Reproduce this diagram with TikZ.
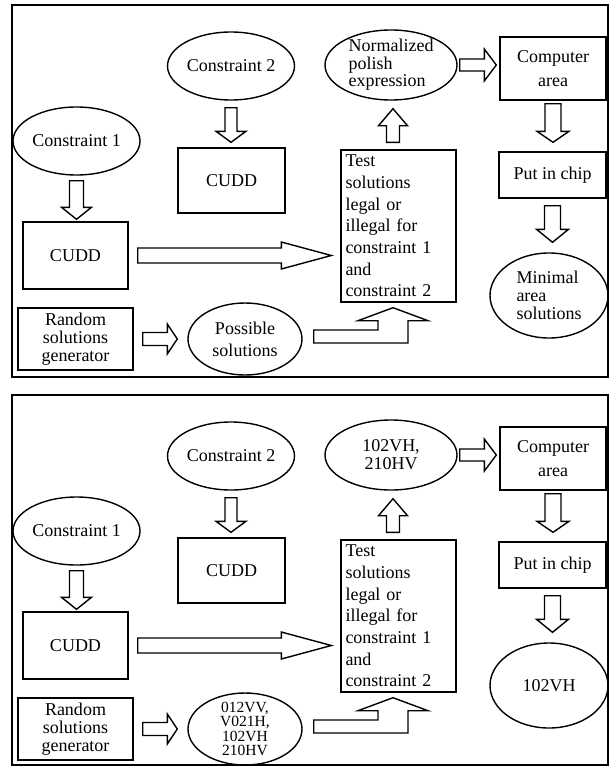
\documentclass[tikz,border=0pt]{standalone}
\usepackage{fontspec}
\setmainfont{Liberation Serif}
\usetikzlibrary{shapes.geometric,calc}
\newcommand\fz[2]{\fontsize{#1bp}{#2bp}\selectfont}
\tikzset{
  box/.style={draw, line width=1.4bp, rectangle, inner sep=0pt, font=\fz{18}{21.5}},
  oval/.style={draw, line width=1.4bp, ellipse, inner sep=0pt},
  fat/.style={draw, line width=1.4bp, line join=miter, fill=white},
  frame/.style={draw, line width=2bp},
}
% vertical / horizontal block arrows: start, end, shaft half width, head half width, head length
\newcommand\fatdown[5]{\path[fat] let \p1=#1, \p2=#2 in
  (\x1-#3bp,\y1) -- (\x1-#3bp,\y2+#5bp) -- (\x1-#4bp,\y2+#5bp) -- (\x1,\y2)
  -- (\x1+#4bp,\y2+#5bp) -- (\x1+#3bp,\y2+#5bp) -- (\x1+#3bp,\y1) -- cycle;}
\newcommand\fatup[5]{\path[fat] let \p1=#1, \p2=#2 in
  (\x1-#3bp,\y1) -- (\x1-#3bp,\y2-#5bp) -- (\x1-#4bp,\y2-#5bp) -- (\x1,\y2)
  -- (\x1+#4bp,\y2-#5bp) -- (\x1+#3bp,\y2-#5bp) -- (\x1+#3bp,\y1) -- cycle;}
\newcommand\fatright[5]{\path[fat] let \p1=#1, \p2=#2 in
  (\x1,\y1+#3bp) -- (\x2-#5bp,\y1+#3bp) -- (\x2-#5bp,\y1+#4bp) -- (\x2,\y1)
  -- (\x2-#5bp,\y1-#4bp) -- (\x2-#5bp,\y1-#3bp) -- (\x1,\y1-#3bp) -- cycle;}
% one panel: prefix, y offset, label of top ellipse, label of possible-solutions ellipse, label of final ellipse
\newcommand\flowpanel[5]{%
\begin{scope}[yshift=-#2bp]
  \node[oval, minimum width=127bp, minimum height=68bp,
        label={[font=\fz{18}{21}]center:Constraint 2}] (#1c2) at (231,66) {};
  \node[box, minimum width=107bp, minimum height=65bp] (#1cuddA) at (231.5,180.5) {CUDD};
  \node[oval, minimum width=127bp, minimum height=68bp,
        label={[font=\fz{18}{21}]center:Constraint 1}] (#1c1) at (76.5,141) {};
  \node[box, minimum width=105bp, minimum height=67bp] (#1cuddB) at (75.5,255.5) {CUDD};
  \node[box, minimum width=115bp, minimum height=62bp, align=center, font=\fz{18}{18}]
        (#1rnd) at (75.5,339) {Random\\solutions\\generator};
  \node[oval, minimum width=114bp, minimum height=72bp, label={#4}] (#1pos) at (245,339) {};
  \node[box, minimum width=115bp, minimum height=152bp, align=left, text width=106bp,
        font=\fz{18}{21.7}] (#1test) at (398.5,226)
        {Test\\solutions\\legal or\\illegal for\\constraint 1\\and\\constraint 2};
  \node[oval, minimum width=132bp, minimum height=70bp, label={#3}] (#1norm) at (391,65) {};
  \node[box, minimum width=106bp, minimum height=63bp, align=center, font=\fz{18}{24}]
        (#1comp) at (553,68.5) {Computer\\area};
  \node[box, minimum width=107bp, minimum height=46bp] (#1chip) at (552.5,175) {Put in chip};
  \node[oval, minimum width=118bp, minimum height=85bp, label={#5}] (#1min) at (549,295.5) {};
  % block arrows
  \fatdown{($(#1c2.south)+(0,7)$)}{($(#1cuddA.north)+(0,-5)$)}{6}{15}{11}
  \fatdown{($(#1c1.south)+(0,5)$)}{($(#1cuddB.north)+(0,-2)$)}{7}{15}{12}
  \fatright{($(#1cuddB.east)+(9,0)$)}{($(#1test.west)+(-9,0)$)}{7.5}{13.5}{50}
  \fatright{($(#1rnd.east)+(9,0)$)}{($(#1pos.west)+(-10,0)$)}{6.5}{15}{10}
  \fatup{($(#1test.north)+(-5.5,-7)$)}{($(#1norm.south)+(0,8)$)}{6.5}{14.5}{17}
  \fatright{($(#1norm.east)+(2,0)$)}{($(#1comp.west)+(-3,0)$)}{6}{16}{12}
  \fatdown{($(#1comp.south)+(0,3)$)}{($(#1chip.north)+(0,-9)$)}{8}{16}{11}
  \fatdown{($(#1chip.south)+(0,7)$)}{($(#1min.north)+(0,-10)$)}{8}{16}{13}
  \path[fat] let \p1=($(#1pos.east)+(11,-2.5)$), \p2=($(#1test.south)+(-5.5,5)$) in
    (\x1,\y1+6.5bp) -- (\x2-15bp,\y1+6.5bp) -- (\x2-15bp,\y2-13bp) -- (\x2-35bp,\y2-13bp)
    -- (\x2,\y2) -- (\x2+35bp,\y2-13bp) -- (\x2+15bp,\y2-13bp) -- (\x2+15bp,\y1-6.5bp)
    -- (\x1,\y1-6.5bp) -- cycle;
\end{scope}}
\begin{document}
\begin{tikzpicture}[x=1bp,y=-1bp]
  \useasboundingbox (0,0) rectangle (612,768);
  \path[fill=white] (0,0) rectangle (612,768);
  \draw[frame] (12,5) rectangle (608,377);
  \draw[frame] (12,395) rectangle (608,765);
  \flowpanel{t}{0}
    {[align=left, font=\fz{18}{17.5}]center:Normalized\\polish\\expression}
    {[align=center, font=\fz{18}{22}]center:Possible\\solutions}
    {[align=left, font=\fz{18}{18}]center:Minimal\\area\\solutions}
  \flowpanel{b}{390}
    {[align=center, font=\fz{18}{18}]center:102VH,\\210HV}
    {[align=center, font=\fz{15.5}{14.5}]center:012VV,\\V021H,\\102VH\\210HV}
    {[align=center, font=\fz{18}{18}]center:102VH}
\end{tikzpicture}
\end{document}
